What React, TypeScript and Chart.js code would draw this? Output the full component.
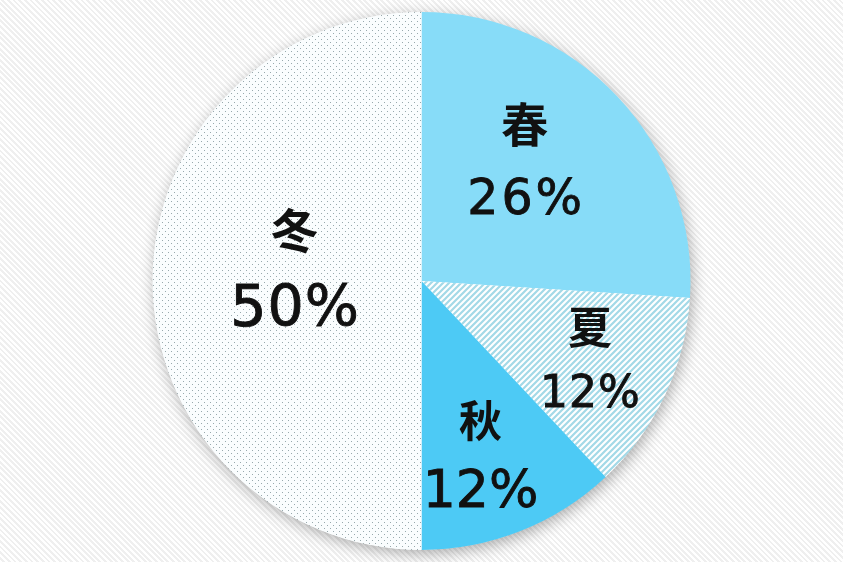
import { useEffect, useRef } from "react";
import { Chart, registerables } from "chart.js";

Chart.register(...registerables);

const seasons = ["春", "夏", "秋", "冬"];
const shares = [26, 12, 12, 50];

// label placement per slice: radius fraction, angle nudge (deg), font sizes, gap
const labelStyle = [
  { r: 0.587, nudge: -6, kanji: 47, num: 49, gap: 75, spacing: 3 },
  { r: 0.692, nudge: 0, kanji: 44, num: 44, gap: 66, spacing: 1 },
  { r: 0.688, nudge: 3, kanji: 43, num: 52, gap: 71, spacing: 0 },
  { r: 0.474, nudge: 5, kanji: 47, num: 57, gap: 79, spacing: 1 },
];

function stripePattern(ctx: CanvasRenderingContext2D) {
  const c = document.createElement("canvas");
  c.width = 6;
  c.height = 6;
  const g = c.getContext("2d")!;
  g.fillStyle = "#ffffff";
  g.fillRect(0, 0, 6, 6);
  g.strokeStyle = "#a3d9e7";
  g.lineWidth = 2.2;
  g.beginPath();
  g.moveTo(-3, 3);
  g.lineTo(3, -3);
  g.moveTo(0, 6);
  g.lineTo(6, 0);
  g.moveTo(3, 9);
  g.lineTo(9, 3);
  g.stroke();
  return ctx.createPattern(c, "repeat")!;
}

function dotPattern(ctx: CanvasRenderingContext2D) {
  const c = document.createElement("canvas");
  c.width = 6;
  c.height = 6;
  const g = c.getContext("2d")!;
  g.fillStyle = "#fafdfe";
  g.fillRect(0, 0, 6, 6);
  g.fillStyle = "#98a9ad";
  g.fillRect(0, 0, 1, 1);
  g.fillRect(3, 3, 1, 1);
  return ctx.createPattern(c, "repeat")!;
}

const pieShadow = {
  id: "pieShadow",
  beforeDatasetsDraw(chart: Chart) {
    const arc: any = chart.getDatasetMeta(0).data[0];
    if (!arc) return;
    const { x, y, outerRadius } = arc.getProps(["x", "y", "outerRadius"], true);
    const ctx = chart.ctx;
    ctx.save();
    ctx.shadowColor = "rgba(0,0,0,0.32)";
    ctx.shadowBlur = 15;
    ctx.shadowOffsetX = 2;
    ctx.shadowOffsetY = 4;
    ctx.fillStyle = "#ffffff";
    ctx.beginPath();
    ctx.arc(x, y, outerRadius - 0.5, 0, Math.PI * 2);
    ctx.fill();
    ctx.restore();
  },
};

const sliceLabels = {
  id: "sliceLabels",
  afterDatasetsDraw(chart: Chart) {
    const ctx = chart.ctx as any;
    const meta = chart.getDatasetMeta(0);
    meta.data.forEach((el: any, i: number) => {
      const { x, y, startAngle, endAngle, outerRadius } = el.getProps(
        ["x", "y", "startAngle", "endAngle", "outerRadius"],
        true
      );
      const s = labelStyle[i];
      const a = (startAngle + endAngle) / 2 + (s.nudge * Math.PI) / 180;
      const cx = x + Math.cos(a) * outerRadius * s.r;
      const cy = y + Math.sin(a) * outerRadius * s.r;
      ctx.save();
      ctx.fillStyle = "#111111";
      ctx.strokeStyle = "#111111";
      ctx.textAlign = "center";
      ctx.textBaseline = "middle";
      ctx.font = `bold ${s.kanji}px "Noto Sans CJK JP"`;
      ctx.fillText(seasons[i], cx, cy - s.gap / 2);
      ctx.font = `${s.num}px "DejaVu Sans"`;
      ctx.letterSpacing = `${s.spacing}px`;
      const txt = `${shares[i]}%`;
      const tx = cx + s.spacing / 2;
      const ty = cy + s.gap / 2 + 2;
      ctx.fillText(txt, tx, ty);
      ctx.lineWidth = 0.9;
      ctx.strokeText(txt, tx, ty);
      ctx.restore();
    });
  },
};

export default function App() {
  const canvasRef = useRef<HTMLCanvasElement | null>(null);

  useEffect(() => {
    document.body.style.margin = "0";
    if (!canvasRef.current) return;
    const ctx = canvasRef.current.getContext("2d")!;

    const chart = new Chart(canvasRef.current, {
      type: "pie",
      data: {
        labels: seasons,
        datasets: [
          {
            data: shares,
            backgroundColor: ["#87dcf8", stripePattern(ctx), "#4dcaf5", dotPattern(ctx)],
            borderWidth: 0,
          },
        ],
      },
      options: {
        responsive: true,
        maintainAspectRatio: false,
        animation: false,
        layout: { padding: 12 },
        plugins: {
          legend: { display: false },
          tooltip: { enabled: false },
        },
      },
      plugins: [pieShadow, sliceLabels],
    });

    return () => chart.destroy();
  }, []);

  return (
    <div
      style={{
        width: 843,
        height: 562,
        position: "relative",
        background:
          "repeating-linear-gradient(45deg, #ffffff 0px, #ffffff 2px, #efefef 2px, #efefef 4px)",
      }}
    >
      <canvas ref={canvasRef} />
    </div>
  );
}
